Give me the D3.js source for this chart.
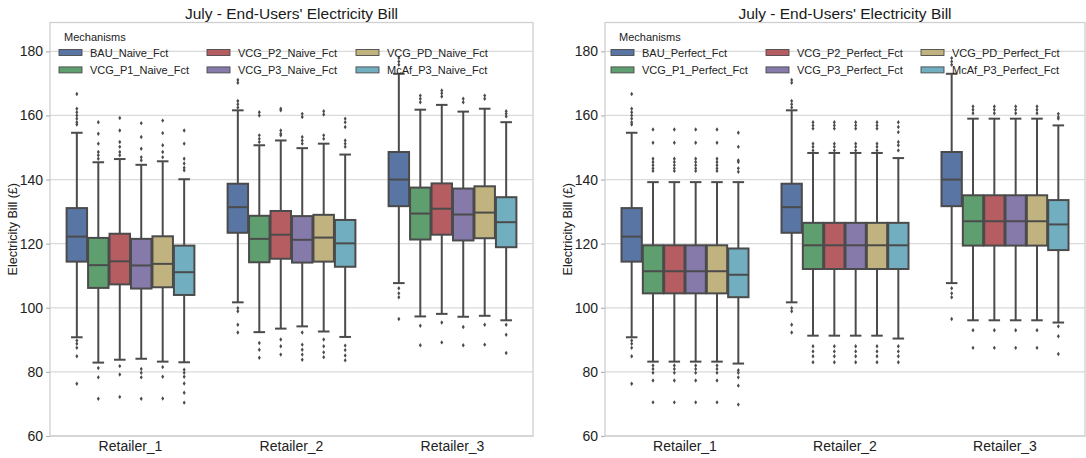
<!DOCTYPE html>
<html>
<head>
<meta charset="utf-8">
<script src="https://cdn.jsdelivr.net/npm/d3@7"></script>
<style>
  html, body { margin: 0; padding: 0; background: #ffffff; }
  svg { display: block; font-family: "Liberation Sans", Arial, sans-serif; }
</style>
</head>
<body>
<svg id="chart" width="1086" height="458"></svg>
<script>
// ---------------- DATA ----------------
const titleText = "July - End-Users' Electricity Bill";
const yLabel = "Electricity Bill (£)";
const legendTitle = "Mechanisms";
const retailers = ["Retailer_1", "Retailer_2", "Retailer_3"];
const yTicks = [60, 80, 100, 120, 140, 160, 180];
const yDomain = [60, 189];

const naiveMechanisms = ["BAU_Naive_Fct", "VCG_P1_Naive_Fct", "VCG_P2_Naive_Fct",
                         "VCG_P3_Naive_Fct", "VCG_PD_Naive_Fct", "McAf_P3_Naive_Fct"];
const perfectMechanisms = ["BAU_Perfect_Fct", "VCG_P1_Perfect_Fct", "VCG_P2_Perfect_Fct",
                           "VCG_P3_Perfect_Fct", "VCG_PD_Perfect_Fct", "McAf_P3_Perfect_Fct"];

// per retailer, per mechanism: [lower whisker, Q1, median, Q3, upper whisker]
const naiveStats = [
  [[90.8,114.4,122.2,131.1,154.6],[82.9,106.2,113.3,121.8,145.4],[83.8,107.3,114.5,123.1,146.4],
   [84.1,106.0,113.2,121.5,144.6],[83.2,106.4,113.7,122.3,145.7],[83.0,104.0,111.1,119.4,140.1]],
  [[101.7,123.4,131.4,138.7,161.6],[92.4,114.2,121.5,128.7,150.7],[93.5,115.3,122.8,130.2,152.2],
   [94.2,114.1,121.2,128.6,149.8],[92.6,114.4,121.9,129.0,151.2],[90.9,112.8,120.1,127.4,147.8]],
  [[107.7,131.7,140.0,148.6,173.0],[97.3,121.3,129.4,137.5,161.8],[98.1,122.8,130.9,138.8,163.3],
   [97.2,121.0,129.1,137.2,161.2],[97.5,121.7,129.7,137.9,162.1],[96.1,118.9,126.7,134.5,157.9]]
];
const naiveOutliers = [
  [[166.7,162.1,161.0,160.0,159.0,157.9,157.2,89.8,88.8,87.5,84.9,76.3],
   [157.9,154.3,151.2,148.6,147.6,146.5,81.2,78.3,71.6],
   [159.2,155.3,151.7,150.2,148.6,147.6,81.8,79.2,72.2],
   [157.6,153.3,149.6,147.0,146.0,80.9,79.7,78.3,71.6],
   [158.4,154.5,150.7,148.6,147.0,81.5,78.5,71.7],
   [155.3,151.2,146.5,145.0,143.7,142.9,80.7,79.7,78.5,76.4,73.5,70.4]],
  [[171.1,170.2,164.5,163.5,162.5,99.9,98.9,94.7,92.3],
   [161.0,160.0,153.8,152.7,151.7,89.0,86.9,84.4],
   [162.1,161.6,155.3,154.3,153.8,90.1,88.0,85.4],
   [160.5,159.5,153.3,152.2,151.2,92.3,88.5,86.9,85.4,83.8],
   [161.3,160.3,153.8,152.7,90.1,88.0,86.1,84.6],
   [159.0,157.9,156.4,152.2,151.2,150.2,88.2,86.8,85.1,83.6]],
  [[177.9,176.8,175.8,106.1,104.5,103.3,96.5],
   [166.2,165.2,164.1,94.4,88.3],
   [167.8,166.9,165.9,95.4,89.2],
   [165.2,164.1,94.0,88.3],
   [166.2,165.2,94.7,88.5],
   [161.3,160.5,159.7,94.7,91.6,85.9]]
];

const perfectStats = [
  [[90.8,114.4,122.2,131.1,154.6],[83.2,104.5,111.4,119.5,139.2],[83.2,104.5,111.4,119.5,139.2],
   [83.2,104.5,111.4,119.5,139.2],[83.2,104.5,111.4,119.5,139.2],[82.6,103.3,110.3,118.5,139.2]],
  [[101.7,123.4,131.4,138.7,161.6],[91.3,112.1,119.5,126.5,148.3],[91.3,112.1,119.5,126.5,148.3],
   [91.3,112.1,119.5,126.5,148.3],[91.3,112.1,119.5,126.5,148.3],[90.4,112.1,119.5,126.5,146.7]],
  [[107.7,131.7,140.0,148.6,173.0],[96.1,119.4,127.0,135.1,159.0],[96.1,119.4,127.0,135.1,159.0],
   [96.1,119.4,127.0,135.1,159.0],[96.1,119.4,127.0,135.1,159.0],[95.4,118.0,126.0,133.6,156.9]]
];
const perfectOutliers = [
  [[166.7,162.1,161.0,160.0,159.0,157.9,157.2,89.8,88.8,87.5,84.9,76.3],
   [155.6,151.5,146.5,145.5,144.5,143.5,142.7,82.0,80.9,79.7,77.3,70.5],
   [155.6,151.5,146.5,145.5,144.5,143.5,142.7,82.0,80.9,79.7,77.3,70.5],
   [155.6,151.5,146.5,145.5,144.5,143.5,142.7,82.0,80.9,79.7,77.3,70.5],
   [155.6,151.5,146.5,145.5,144.5,143.5,142.7,82.0,80.9,79.7,77.3,70.5],
   [154.6,150.2,146.0,145.5,143.5,142.4,80.5,79.7,78.3,75.7,69.8]],
  [[171.1,170.2,164.5,163.5,162.5,99.9,98.9,94.7,92.3],
   [157.9,156.9,155.9,151.2,150.2,149.1,88.0,86.4,84.9,83.0],
   [157.9,156.9,155.9,151.2,150.2,149.1,88.0,86.4,84.9,83.0],
   [157.9,156.9,155.9,151.2,150.2,149.1,88.0,86.4,84.9,83.0],
   [157.9,156.9,155.9,151.2,150.2,149.1,88.0,86.4,84.9,83.0],
   [157.9,156.4,154.8,151.7,150.7,149.1,88.0,86.4,84.9,83.0]],
  [[177.9,176.8,175.8,106.1,104.5,103.3,96.5],
   [162.8,161.8,160.7,93.0,87.5],
   [162.8,161.8,160.7,93.0,87.5],
   [162.8,161.8,160.7,93.0,87.5],
   [162.8,161.8,160.7,93.0,87.5],
   [160.5,159.5,159.0,94.2,91.1,85.6]]
];

// seaborn "deep" palette desaturated to 0.75 (as boxplot does)
const palette = ["#5875A4", "#5F9E6E", "#B55D60", "#857AAA", "#C1B37F", "#71AEC0"];

// ---------------- DRAW ----------------
const svg = d3.select("#chart");
const lineColor = "#4b4b4b";

function drawPanel(opts) {
  const { x0, x1, y0, y1, mechs, stats, outliers, legX, legTitleX, legCols } = opts;
  const g = svg.append("g");

  const x = d3.scaleBand().domain(retailers).range([x0, x1]).paddingInner(0.2).paddingOuter(0.1);
  const hue = d3.scaleBand().domain(mechs).range([0, x.bandwidth()]);
  const y = d3.scaleLinear().domain(yDomain).range([y1, y0]);
  const color = d3.scaleOrdinal().domain(mechs).range(palette);

  // gridlines
  g.append("g").selectAll("line").data(yTicks).join("line")
    .attr("x1", x0).attr("x2", x1)
    .attr("y1", d => y(d)).attr("y2", d => y(d))
    .attr("stroke", "#dadada").attr("stroke-width", 1.3);

  // frame
  g.append("rect").attr("x", x0).attr("y", y0).attr("width", x1 - x0).attr("height", y1 - y0)
    .attr("fill", "none").attr("stroke", "#cfcfcf").attr("stroke-width", 1.3);

  // y axis
  const yAxis = g.append("g").attr("transform", `translate(${x0},0)`)
    .call(d3.axisLeft(y).tickValues(yTicks).tickSize(4).tickPadding(3).tickFormat(d3.format("d")));
  yAxis.select(".domain").remove();
  yAxis.selectAll(".tick line").attr("stroke", "#b5b5b5").attr("stroke-width", 1.2);
  yAxis.selectAll(".tick text").attr("font-size", 14).attr("fill", "#222")
    .attr("font-family", "Liberation Sans, Arial, sans-serif");

  // x axis labels
  const xAxis = g.append("g").attr("transform", `translate(0,${y1})`)
    .call(d3.axisBottom(x).tickSize(0).tickPadding(5));
  xAxis.select(".domain").remove();
  xAxis.selectAll(".tick text").attr("font-size", 14).attr("fill", "#222")
    .attr("font-family", "Liberation Sans, Arial, sans-serif");

  // y label
  g.append("text")
    .attr("transform", `translate(${x0 - 33},${(y0 + y1) / 2}) rotate(-90)`)
    .attr("text-anchor", "middle").attr("font-size", 12.5).attr("fill", "#222")
    .text(yLabel);

  // title
  g.append("text").attr("x", (x0 + x1) / 2).attr("y", y0 - 3.5)
    .attr("text-anchor", "middle").attr("font-size", 15.5).attr("fill", "#1a1a1a")
    .text(titleText);

  // boxes
  const bw = hue.bandwidth();
  retailers.forEach((r, ri) => {
    mechs.forEach((m, mi) => {
      const s = stats[ri][mi];
      const cx = x(r) + hue(m) + bw / 2;
      const bx = x(r) + hue(m);
      const bg = g.append("g");
      // whiskers
      bg.append("line").attr("x1", cx).attr("x2", cx).attr("y1", y(s[0])).attr("y2", y(s[1]))
        .attr("stroke", lineColor).attr("stroke-width", 2);
      bg.append("line").attr("x1", cx).attr("x2", cx).attr("y1", y(s[3])).attr("y2", y(s[4]))
        .attr("stroke", lineColor).attr("stroke-width", 2);
      // caps
      [s[0], s[4]].forEach(v => {
        bg.append("line").attr("x1", cx - bw * 0.27).attr("x2", cx + bw * 0.27)
          .attr("y1", y(v)).attr("y2", y(v))
          .attr("stroke", lineColor).attr("stroke-width", 2);
      });
      // box
      bg.append("rect").attr("x", bx + 0.5).attr("width", bw - 1)
        .attr("y", y(s[3])).attr("height", y(s[1]) - y(s[3]))
        .attr("fill", color(m)).attr("stroke", lineColor).attr("stroke-width", 2);
      // median
      bg.append("line").attr("x1", bx + 0.5).attr("x2", bx + bw - 0.5)
        .attr("y1", y(s[2])).attr("y2", y(s[2]))
        .attr("stroke", lineColor).attr("stroke-width", 2);
      // outliers (diamonds)
      bg.selectAll("path.fl").data(outliers[ri][mi]).join("path")
        .attr("d", v => `M${cx},${y(v) - 2.2}L${cx + 1.5},${y(v)}L${cx},${y(v) + 2.2}L${cx - 1.5},${y(v)}Z`)
        .attr("fill", lineColor);
    });
  });

  // legend
  const lg = g.append("g");
  lg.append("text").attr("x", legTitleX).attr("y", y0 + 18.5)
    .attr("font-size", 11).attr("fill", "#222").text(legendTitle);
  mechs.forEach((m, i) => {
    const col = Math.floor(i / 2), row = i % 2;
    const lx = legX + legCols[col];
    const ly = y0 + 27 + row * 17.4;
    lg.append("rect").attr("x", lx).attr("y", ly).attr("width", 23).attr("height", 6)
      .attr("fill", color(m)).attr("stroke", lineColor).attr("stroke-width", 0.9);
    lg.append("text").attr("x", lx + 31).attr("y", ly + 7)
      .attr("font-size", 11).attr("fill", "#222").text(m);
  });
}

drawPanel({ x0: 50, x1: 533, y0: 22.5, y1: 436, mechs: naiveMechanisms, stats: naiveStats,
            outliers: naiveOutliers, legX: 59, legTitleX: 64, legCols: [0, 148, 297] });
drawPanel({ x0: 605, x1: 1085, y0: 22.5, y1: 436, mechs: perfectMechanisms, stats: perfectStats,
            outliers: perfectOutliers, legX: 611, legTitleX: 619, legCols: [0, 155, 310] });
</script>
</body>
</html>
